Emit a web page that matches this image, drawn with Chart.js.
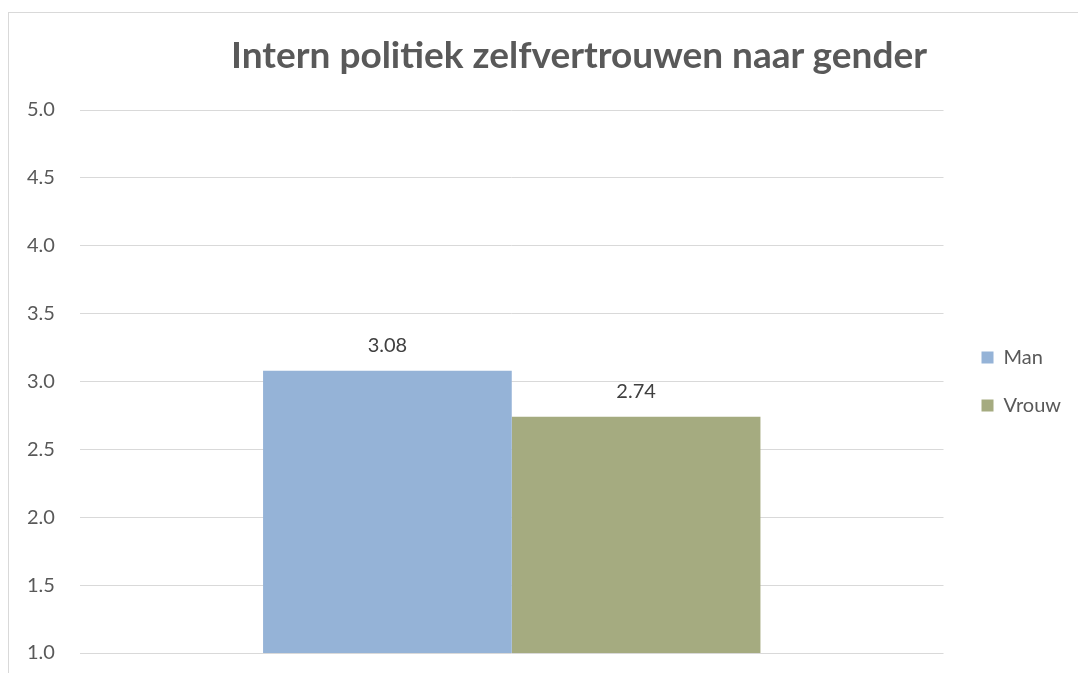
<!DOCTYPE html>
<html>
<head>
<meta charset="utf-8">
<script src="https://cdn.jsdelivr.net/npm/chart.js@4.4.0/dist/chart.umd.min.js"></script>
<style>
  html, body { margin: 0; padding: 0; background: #fff; overflow: hidden; }
  #frame {
    position: absolute; left: 8px; top: 12px;
    width: 1070px; height: 661px; box-sizing: border-box;
    border-left: 1px solid #d9d9d9; border-top: 1px solid #d9d9d9;
  }
  #myChart { position: absolute; left: 0; top: 0; }
  #title {
    position: absolute; left: 229px; top: 35px; width: 700px;
    text-align: center; font: bold 37px Lato, sans-serif; line-height: 1;
    color: #595959; white-space: nowrap;
  }
</style>
</head>
<body>
<div id="frame"><canvas id="myChart" width="1069" height="660"></canvas></div>
<div id="title">Intern politiek zelfvertrouwen naar gender</div>
<script>
// data
var categorie = [''];
var serieNomi = ['Man', 'Vrouw'];
var valoriMan = [3.08];
var valoriVrouw = [2.74];
var coloriSerie = ['#95B3D7', '#A5AB80'];
var tickMin = 1.0;
var tickMax = 5.0;
var tickStep = 0.5;

/**
 * etichette sopra le barre
 */
var etichetteValori = {
	id: 'etichetteValori',
	afterDatasetsDraw: function(chart) {
		var ctx = chart.ctx;
		ctx.save();
		ctx.font = '20px Lato';
		ctx.fillStyle = '#404040';
		ctx.textAlign = 'center';
		ctx.textBaseline = 'middle';
		chart.data.datasets.forEach(function(ds, i) {
			chart.getDatasetMeta(i).data.forEach(function(bar, j) {
				ctx.fillText(ds.data[j].toFixed(2), bar.x, bar.y - 25);
			});
		});
		ctx.restore();
	}
};

// sposta la legenda un po' a destra
var spostaLegenda = {
	id: 'spostaLegenda',
	afterLayout: function(chart) {
		chart.legend.left += 10;
		chart.legend.right += 10;
	}
};

var ctx = document.getElementById('myChart').getContext('2d');
var myChart = new Chart(ctx, {
	type: 'bar',
	data: {
		labels: categorie,
		datasets: [{
			label: serieNomi[0],
			backgroundColor: coloriSerie[0],
			data: valoriMan
		}, {
			label: serieNomi[1],
			backgroundColor: coloriSerie[1],
			data: valoriVrouw
		}]
	},
	options: {
		responsive: false,
		animation: false,
		layout: { padding: { top: 97, bottom: 20, left: 18, right: 17 } },
		datasets: { bar: { categoryPercentage: 0.576, barPercentage: 1.0 } },
		plugins: {
			title: { display: false },
			tooltip: { enabled: false },
			legend: {
				position: 'right',
				labels: {
					boxWidth: 12, boxHeight: 12, padding: 28,
					color: '#595959', font: { family: 'Lato', size: 20 }
				}
			}
		},
		scales: {
			x: { display: false },
			y: {
				min: tickMin, max: tickMax,
				afterFit: function(scale) { scale.width = 53; },
				border: { display: false },
				grid: { color: '#d9d9d9', lineWidth: 1, drawTicks: false },
				ticks: {
					stepSize: tickStep, padding: 0, crossAlign: 'far', color: '#595959',
					font: { family: 'Lato', size: 20 },
					callback: function(v) { return v.toFixed(1); }
				}
			}
		}
	},
	plugins: [etichetteValori, spostaLegenda]
});
</script>
</body>
</html>
